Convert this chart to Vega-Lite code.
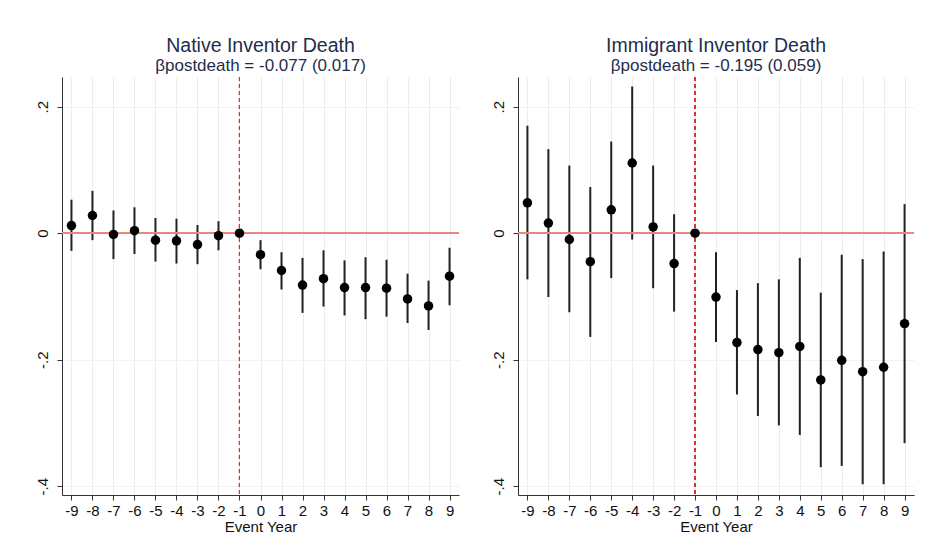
{
  "$schema": "https://vega.github.io/schema/vega-lite/v6.json",
  "background": "white",
  "padding": {"left": 35, "top": 36, "right": 10, "bottom": 5},
  "config": {
    "font": "Liberation Sans",
    "view": {"stroke": null},
    "concat": {"spacing": 31},
    "title": {"fontSize": 19.5, "fontWeight": "normal", "color": "#1f2d4d", "subtitleFontSize": 17, "subtitleColor": "#1f2d4d", "anchor": "middle", "offset": 2, "subtitlePadding": 1},
    "axis": {"titleFontSize": 16, "labelFontSize": 15}
  },
  "datasets": {
    "native": [
      {"year": -9, "est": 0.012, "hi": 0.053, "lo": -0.028},
      {"year": -8, "est": 0.028, "hi": 0.067, "lo": -0.011},
      {"year": -7, "est": -0.002, "hi": 0.036, "lo": -0.041},
      {"year": -6, "est": 0.004, "hi": 0.041, "lo": -0.033},
      {"year": -5, "est": -0.011, "hi": 0.024, "lo": -0.045},
      {"year": -4, "est": -0.012, "hi": 0.023, "lo": -0.048},
      {"year": -3, "est": -0.018, "hi": 0.013, "lo": -0.049},
      {"year": -2, "est": -0.004, "hi": 0.019, "lo": -0.027},
      {"year": -1, "est": 0, "hi": 0, "lo": 0},
      {"year": 0, "est": -0.034, "hi": -0.011, "lo": -0.057},
      {"year": 1, "est": -0.059, "hi": -0.030, "lo": -0.089},
      {"year": 2, "est": -0.082, "hi": -0.039, "lo": -0.126},
      {"year": 3, "est": -0.072, "hi": -0.027, "lo": -0.116},
      {"year": 4, "est": -0.086, "hi": -0.043, "lo": -0.130},
      {"year": 5, "est": -0.086, "hi": -0.038, "lo": -0.136},
      {"year": 6, "est": -0.087, "hi": -0.042, "lo": -0.132},
      {"year": 7, "est": -0.104, "hi": -0.064, "lo": -0.142},
      {"year": 8, "est": -0.115, "hi": -0.075, "lo": -0.153},
      {"year": 9, "est": -0.068, "hi": -0.023, "lo": -0.114}
    ],
    "immigrant": [
      {"year": -9, "est": 0.048, "hi": 0.170, "lo": -0.073},
      {"year": -8, "est": 0.016, "hi": 0.133, "lo": -0.101},
      {"year": -7, "est": -0.010, "hi": 0.107, "lo": -0.125},
      {"year": -6, "est": -0.045, "hi": 0.073, "lo": -0.164},
      {"year": -5, "est": 0.037, "hi": 0.145, "lo": -0.071},
      {"year": -4, "est": 0.111, "hi": 0.232, "lo": -0.010},
      {"year": -3, "est": 0.010, "hi": 0.107, "lo": -0.087},
      {"year": -2, "est": -0.048, "hi": 0.030, "lo": -0.124},
      {"year": -1, "est": 0, "hi": 0, "lo": 0},
      {"year": 0, "est": -0.101, "hi": -0.030, "lo": -0.172},
      {"year": 1, "est": -0.173, "hi": -0.090, "lo": -0.255},
      {"year": 2, "est": -0.184, "hi": -0.079, "lo": -0.289},
      {"year": 3, "est": -0.189, "hi": -0.073, "lo": -0.304},
      {"year": 4, "est": -0.179, "hi": -0.039, "lo": -0.319},
      {"year": 5, "est": -0.232, "hi": -0.094, "lo": -0.370},
      {"year": 6, "est": -0.201, "hi": -0.034, "lo": -0.368},
      {"year": 7, "est": -0.219, "hi": -0.041, "lo": -0.397},
      {"year": 8, "est": -0.212, "hi": -0.029, "lo": -0.397},
      {"year": 9, "est": -0.143, "hi": 0.046, "lo": -0.332}
    ]
  },
  "hconcat": [
    {
      "width": 397, "height": 418,
      "title": {"text": "Native Inventor Death", "subtitle": "βpostdeath = -0.077 (0.017)"},
      "data": {"name": "native"},
      "encoding": {
        "x": {"field": "year", "type": "quantitative",
          "scale": {"domain": [-9.45, 9.45], "nice": false, "zero": false},
          "axis": {
            "values": [-9,-8,-7,-6,-5,-4,-3,-2,-1,0,1,2,3,4,5,6,7,8,9],
            "labelExpr": "'' + datum.value",
            "grid": true, "gridColor": "#ececec", "gridWidth": 1,
            "domainColor": "#333333", "tickColor": "#333333", "tickSize": 5,
            "labelFontSize": 15, "labelColor": "#111111", "labelPadding": 3, "labelFlush": false,
            "title": "Event Year", "titleFontSize": 15, "titleFontWeight": "normal", "titleColor": "#111111", "titlePadding": 1
          }},
        "y": {"field": "est", "type": "quantitative",
          "scale": {"domain": [-0.414, 0.247], "nice": false, "zero": false},
          "axis": {
            "values": [-0.4, -0.2, 0, 0.2],
            "labelExpr": "datum.value > 0.1 ? '.2' : datum.value > -0.1 ? '0' : datum.value > -0.3 ? '-.2' : '-.4'",
            "labelAngle": -90, "labelAlign": "center", "labelBaseline": "bottom",
            "grid": true, "gridColor": "#f2f2f2",
            "domainColor": "#333333", "tickColor": "#333333", "tickSize": 5,
            "labelFontSize": 15, "labelColor": "#111111", "labelPadding": 7, "title": null
          }}
      },
      "layer": [
        {"mark": {"type": "rule", "color": "#222222", "strokeWidth": 2},
         "encoding": {"y": {"field": "lo", "type": "quantitative"}, "y2": {"field": "hi"}}},
        {"mark": {"type": "rule", "color": "#e8877c", "strokeWidth": 1.6}, "encoding": {"x": null, "y": {"datum": 0, "type": "quantitative"}}},
        {"mark": {"type": "rule", "color": "#d9342b", "strokeDash": [4, 3], "strokeWidth": 1}, "encoding": {"x": {"datum": -1, "type": "quantitative"}, "y": null}},
        {"mark": {"type": "circle", "color": "#000000", "opacity": 1, "size": 90}, "encoding": {}}
      ]
    },
    {
      "width": 396, "height": 418,
      "title": {"text": "Immigrant Inventor Death", "subtitle": "βpostdeath = -0.195 (0.059)"},
      "data": {"name": "immigrant"},
      "encoding": {
        "x": {"field": "year", "type": "quantitative",
          "scale": {"domain": [-9.45, 9.45], "nice": false, "zero": false},
          "axis": {
            "values": [-9,-8,-7,-6,-5,-4,-3,-2,-1,0,1,2,3,4,5,6,7,8,9],
            "labelExpr": "'' + datum.value",
            "grid": true, "gridColor": "#ececec", "gridWidth": 1,
            "domainColor": "#333333", "tickColor": "#333333", "tickSize": 5,
            "labelFontSize": 15, "labelColor": "#111111", "labelPadding": 3, "labelFlush": false,
            "title": "Event Year", "titleFontSize": 15, "titleFontWeight": "normal", "titleColor": "#111111", "titlePadding": 1
          }},
        "y": {"field": "est", "type": "quantitative",
          "scale": {"domain": [-0.414, 0.247], "nice": false, "zero": false},
          "axis": {
            "values": [-0.4, -0.2, 0, 0.2],
            "labelExpr": "datum.value > 0.1 ? '.2' : datum.value > -0.1 ? '0' : datum.value > -0.3 ? '-.2' : '-.4'",
            "labelAngle": -90, "labelAlign": "center", "labelBaseline": "bottom",
            "grid": true, "gridColor": "#f2f2f2",
            "domainColor": "#333333", "tickColor": "#333333", "tickSize": 5,
            "labelFontSize": 15, "labelColor": "#111111", "labelPadding": 7, "title": null
          }}
      },
      "layer": [
        {"mark": {"type": "rule", "color": "#222222", "strokeWidth": 2},
         "encoding": {"y": {"field": "lo", "type": "quantitative"}, "y2": {"field": "hi"}}},
        {"mark": {"type": "rule", "color": "#e8877c", "strokeWidth": 1.6}, "encoding": {"x": null, "y": {"datum": 0, "type": "quantitative"}}},
        {"mark": {"type": "rule", "color": "#d9342b", "strokeDash": [4, 3], "strokeWidth": 1}, "encoding": {"x": {"datum": -1, "type": "quantitative"}, "y": null}},
        {"mark": {"type": "circle", "color": "#000000", "opacity": 1, "size": 90}, "encoding": {}}
      ]
    }
  ]
}
